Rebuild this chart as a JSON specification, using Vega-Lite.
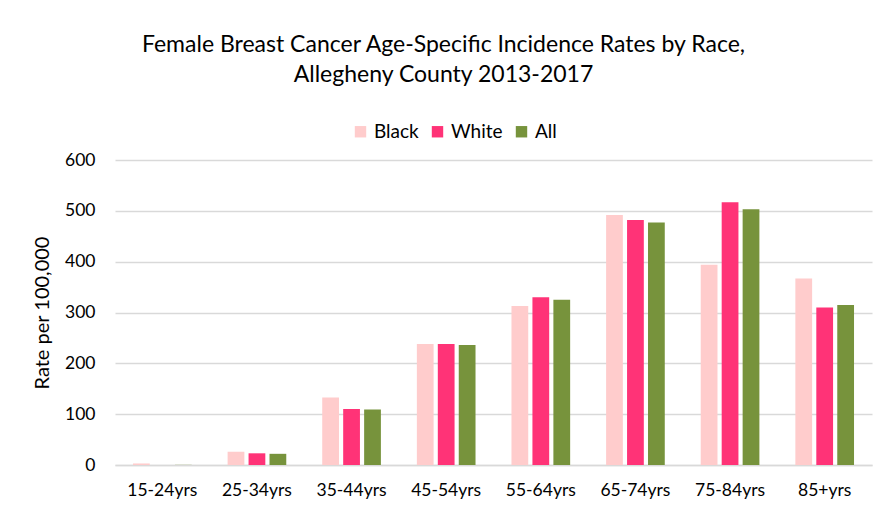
{
  "$schema": "https://vega.github.io/schema/vega-lite/v6.json",
  "width": 757,
  "height": 305,
  "autosize": {"type": "none"},
  "padding": {"left": 115, "top": 160, "right": 14, "bottom": 56},
  "background": "white",
  "title": {
    "text": ["Female Breast Cancer Age-Specific Incidence Rates by Race,", "Allegheny County 2013-2017"],
    "font": "Lato",
    "fontSize": 23,
    "fontWeight": "normal",
    "color": "#000000",
    "lineHeight": 30,
    "anchor": "middle",
    "dx": -50,
    "offset": 35
  },
  "data": {
    "values": [
      {"age": "15-24yrs", "race": "Black", "rate": 3},
      {"age": "15-24yrs", "race": "White", "rate": 0},
      {"age": "15-24yrs", "race": "All", "rate": 0.3},
      {"age": "25-34yrs", "race": "Black", "rate": 26},
      {"age": "25-34yrs", "race": "White", "rate": 23},
      {"age": "25-34yrs", "race": "All", "rate": 22},
      {"age": "35-44yrs", "race": "Black", "rate": 133},
      {"age": "35-44yrs", "race": "White", "rate": 110},
      {"age": "35-44yrs", "race": "All", "rate": 109},
      {"age": "45-54yrs", "race": "Black", "rate": 238},
      {"age": "45-54yrs", "race": "White", "rate": 238},
      {"age": "45-54yrs", "race": "All", "rate": 236},
      {"age": "55-64yrs", "race": "Black", "rate": 313},
      {"age": "55-64yrs", "race": "White", "rate": 330},
      {"age": "55-64yrs", "race": "All", "rate": 325},
      {"age": "65-74yrs", "race": "Black", "rate": 492},
      {"age": "65-74yrs", "race": "White", "rate": 482},
      {"age": "65-74yrs", "race": "All", "rate": 477},
      {"age": "75-84yrs", "race": "Black", "rate": 394},
      {"age": "75-84yrs", "race": "White", "rate": 517},
      {"age": "75-84yrs", "race": "All", "rate": 503},
      {"age": "85+yrs", "race": "Black", "rate": 367},
      {"age": "85+yrs", "race": "White", "rate": 310},
      {"age": "85+yrs", "race": "All", "rate": 315}
    ]
  },
  "mark": {"type": "bar"},
  "encoding": {
    "x": {
      "field": "age",
      "type": "nominal",
      "sort": null,
      "scale": {"paddingInner": 0.38, "paddingOuter": 0.19},
      "axis": {
        "title": null,
        "labelAngle": 0,
        "labelFont": "Lato",
        "labelFontSize": 17.5,
        "labelColor": "#000000",
        "labelPadding": 16,
        "ticks": false,
        "domainColor": "#D9D9D9",
        "domainWidth": 1.5
      }
    },
    "xOffset": {
      "field": "race",
      "type": "nominal",
      "sort": ["Black", "White", "All"],
      "scale": {"paddingInner": 0.2}
    },
    "y": {
      "field": "rate",
      "type": "quantitative",
      "scale": {"domain": [0, 600]},
      "axis": {
        "title": "Rate per 100,000",
        "titleFont": "Lato",
        "titleFontSize": 20,
        "titleFontWeight": "normal",
        "titleColor": "#000000",
        "titlePadding": 12,
        "values": [0, 100, 200, 300, 400, 500, 600],
        "labelFont": "Lato",
        "labelFontSize": 17.5,
        "labelColor": "#000000",
        "labelPadding": 20,
        "ticks": false,
        "domain": false,
        "gridColor": "#D9D9D9",
        "gridWidth": 1.5
      }
    },
    "color": {
      "field": "race",
      "type": "nominal",
      "sort": ["Black", "White", "All"],
      "scale": {"domain": ["Black", "White", "All"], "range": ["#FFCCCC", "#FF3377", "#77933C"]},
      "legend": {
        "title": null,
        "orient": "none",
        "direction": "horizontal",
        "legendX": 236,
        "legendY": -38,
        "symbolType": "square",
        "symbolSize": 130,
        "symbolStrokeWidth": 0,
        "labelFont": "Lato",
        "labelFontSize": 19,
        "labelColor": "#000000",
        "columnPadding": 9,
        "labelOffset": 4
      }
    }
  },
  "config": {"view": {"stroke": null}}
}
